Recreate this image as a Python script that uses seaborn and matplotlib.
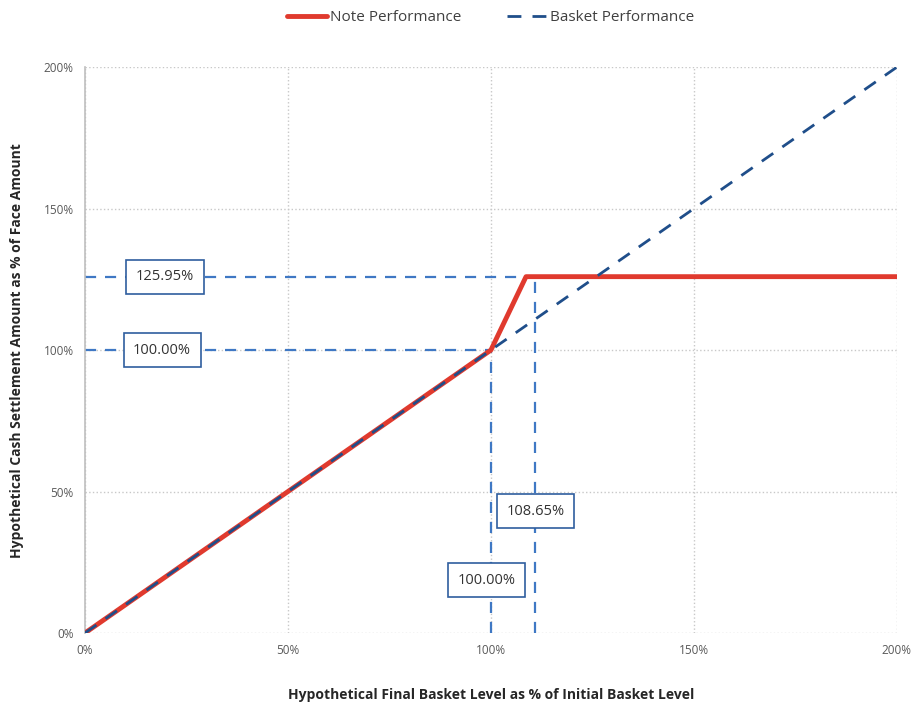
import matplotlib
matplotlib.use("Agg")
import matplotlib.pyplot as plt
import seaborn as sns
import pandas as pd
from matplotlib.ticker import FuncFormatter

# Data
basket_x = [0, 200]
basket_y = [0, 200]
note_x = [0, 100, 108.65, 200]
note_y = [0, 100, 125.95, 125.95]

# reference lines (as drawn in the picture)
ref_h_levels = [100.0, 125.95]
ref_h_ends = [100.0, 108.65]
ref_v_levels = [100.0, 110.8]
ref_v_tops = [100.0, 125.95]

# callout labels: text, x, y
label_texts = ["125.95%", "100.00%", "108.65%", "100.00%"]
label_x = [19.7, 19.0, 111.0, 99.0]
label_y = [125.95, 100.0, 43.0, 18.7]

ticks = [0, 50, 100, 150, 200]

sns.set_theme(style="white")
plt.rcParams['font.family'] = ['Open Sans', 'DejaVu Sans']

fig = plt.figure(figsize=(9.17, 7.07), dpi=100)
ax = fig.add_axes([0.0927, 0.1047, 0.978 - 0.0927, 0.905 - 0.1047])

df_note = pd.DataFrame({"x": note_x, "y": note_y, "s": "Note Performance"})
df_basket = pd.DataFrame({"x": basket_x, "y": basket_y, "s": "Basket Performance"})

ref_color = "#3F78C4"
for lvl, end in zip(ref_h_levels, ref_h_ends):
    ax.plot([0, end], [lvl, lvl], color=ref_color, lw=1.6, ls=(0, (5, 4)), zorder=2)
for lvl, top in zip(ref_v_levels, ref_v_tops):
    ax.plot([lvl, lvl], [0, top], color=ref_color, lw=1.6, ls=(0, (5, 4)), zorder=2)

sns.lineplot(data=df_note, x="x", y="y", ax=ax, color="#E03A2E", lw=3.5,
             label="Note Performance", zorder=3, sort=False)
sns.lineplot(data=df_basket, x="x", y="y", ax=ax, color="#1F4E8A", lw=2.0,
             label="Basket Performance", zorder=4, sort=False)
ax.lines[-1].set_dashes([5, 4])

for t, x, y in zip(label_texts, label_x, label_y):
    ax.text(x, y, t, ha="center", va="center", fontsize=10.5, color="#333333",
            zorder=6,
            bbox=dict(boxstyle="square,pad=0.65", fc="white", ec="#2F5E9E", lw=1.2))

ax.set_xlim(0, 200)
ax.set_ylim(0, 200)
ax.set_xticks(ticks)
ax.set_yticks(ticks)
fmt = FuncFormatter(lambda v, p: f"{int(v)}%")
ax.xaxis.set_major_formatter(fmt)
ax.yaxis.set_major_formatter(fmt)
ax.tick_params(axis="both", labelsize=8.5, colors="#595959", length=0, pad=8)
ax.grid(True, color="#C8C8C8", ls=":", lw=1.0)
for s in ["top", "right", "bottom"]:
    ax.spines[s].set_visible(False)
ax.spines["left"].set_color("#BFBFBF")
ax.spines["left"].set_linewidth(1.2)

ax.set_xlabel("Hypothetical Final Basket Level as % of Initial Basket Level",
              fontsize=10, fontweight="bold", color="#262626", labelpad=22)
ax.set_ylabel("Hypothetical Cash Settlement Amount as % of Face Amount",
              fontsize=10, fontweight="bold", color="#262626", labelpad=14)

ax.legend(loc="upper center", bbox_to_anchor=(0.5, 1.125), ncol=2, frameon=False,
          fontsize=11, handlelength=2.6, columnspacing=3.0, handletextpad=0.2,
          labelcolor="#404040")

fig.savefig("out.png", dpi=100, facecolor="white")
